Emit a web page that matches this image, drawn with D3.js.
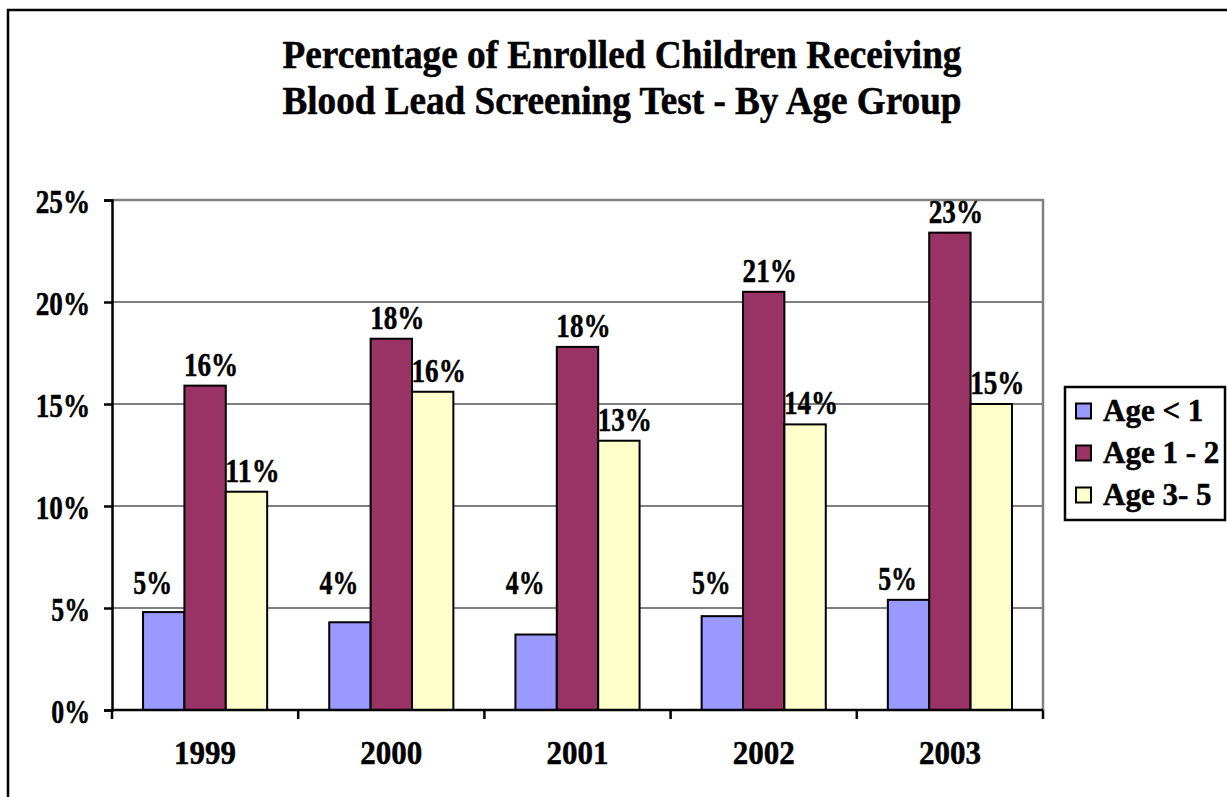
<!DOCTYPE html>
<html>
<head>
<meta charset="utf-8">
<script src="https://cdn.jsdelivr.net/npm/d3@7"></script>
<style>
  html, body { margin: 0; padding: 0; background: #fff; }
  svg { display: block; }
  text { font-family: "Liberation Serif", "Times New Roman", serif; font-weight: bold; fill: #000; stroke: #000; stroke-width: 0.5px; }
</style>
</head>
<body>
<svg id="chart" width="1227" height="797"></svg>
<script>
// Chart data
const years = ["1999", "2000", "2001", "2002", "2003"];
const seriesNames = ["Age < 1", "Age 1 - 2", "Age 3- 5"];
const ageUnder1 = [4.8, 4.3, 3.7, 4.6, 5.4];
const age1to2 = [15.9, 18.2, 17.8, 20.5, 23.4];
const age3to5 = [10.7, 15.6, 13.2, 14.0, 15.0];
const yTicks = [0, 5, 10, 15, 20, 25];
const titleLines = ["Percentage of Enrolled Children Receiving", "Blood Lead Screening Test - By Age Group"];
const seriesColors = ["#9999FF", "#993366", "#FFFFCC"];

const seriesValues = [ageUnder1, age1to2, age3to5];

const svg = d3.select("#chart");

// Outer frame
svg.append("rect")
  .attr("x", 8).attr("y", 10)
  .attr("width", 1260).attr("height", 820)
  .attr("fill", "none").attr("stroke", "#000").attr("stroke-width", 2.5);

// Title (two centred lines)
svg.append("g").selectAll("text")
  .data(titleLines)
  .join("text")
  .attr("x", 622)
  .attr("y", (d, i) => 68 + i * 46)
  .attr("text-anchor", "middle")
  .attr("font-size", 39)
  .attr("textLength", 679)
  .attr("lengthAdjust", "spacingAndGlyphs")
  .text(d => d);

// Plot area
const plot = { left: 112, right: 1043, top: 200, bottom: 710 };

const x0 = d3.scaleBand().domain(years).range([plot.left, plot.right]).paddingInner(0).paddingOuter(0);
const band = x0.bandwidth();
const gapWidth = band * 1.5 / 4.5;
const x1 = d3.scaleBand().domain(seriesNames).range([gapWidth / 2, band - gapWidth / 2]).padding(0);
const y = d3.scaleLinear().domain([0, 25]).range([plot.bottom, plot.top]);

// Gridlines
svg.append("g")
  .selectAll("line")
  .data(yTicks.filter(t => t > 0 && t < 25))
  .join("line")
  .attr("x1", plot.left).attr("x2", plot.right)
  .attr("y1", d => y(d)).attr("y2", d => y(d))
  .attr("stroke", "#000").attr("stroke-width", 1.2);

// Plot frame top and right (gray)
svg.append("path")
  .attr("d", `M${plot.left},${y(25)}H${plot.right}V${plot.bottom}`)
  .attr("fill", "none").attr("stroke", "#808080").attr("stroke-width", 2.5);

// Bars
const rows = years.map((yr, i) => ({ year: yr, values: seriesNames.map((s, j) => ({ series: s, idx: j, value: seriesValues[j][i] })) }));

const groups = svg.append("g").selectAll("g")
  .data(rows)
  .join("g")
  .attr("transform", d => `translate(${x0(d.year)},0)`);

groups.selectAll("rect")
  .data(d => d.values)
  .join("rect")
  .attr("x", d => x1(d.series))
  .attr("y", d => y(d.value))
  .attr("width", x1.bandwidth())
  .attr("height", d => y(0) - y(d.value))
  .attr("fill", d => seriesColors[d.idx])
  .attr("stroke", "#000").attr("stroke-width", 2);

// Value labels
const labelSize = 34;
const minLabelValue = 5.2;
const pctWidth = s => 31 * (0.5 * (s.length - 1) + 0.75);
groups.selectAll("text")
  .data(d => d.values)
  .join("text")
  .each(function(d) { d.label = Math.round(d.value) + "%"; })
  .attr("x", d => x1(d.series) + x1.bandwidth() / 2 + (d.label.length === 2 ? -11 : 6))
  .attr("y", d => y(Math.max(d.value, minLabelValue)) - 10)
  .attr("text-anchor", "middle")
  .attr("font-size", labelSize)
  .attr("textLength", d => pctWidth(d.label))
  .attr("lengthAdjust", "spacingAndGlyphs")
  .text(d => d.label);

// Y axis
const yAxis = svg.append("g")
  .attr("transform", `translate(${plot.left},0)`)
  .call(d3.axisLeft(y).tickValues(yTicks).tickSize(8).tickPadding(14).tickFormat(d => d + "%"));
yAxis.select(".domain").attr("stroke", "#000").attr("stroke-width", 2.5);
yAxis.selectAll(".tick line").attr("stroke", "#000").attr("stroke-width", 2.5);
yAxis.selectAll(".tick text")
  .attr("font-family", null)
  .attr("font-size", labelSize)
  .attr("fill", "#000")
  .attr("dy", "0.36em")
  .attr("textLength", function(d) { return pctWidth(d + "%"); })
  .attr("lengthAdjust", "spacingAndGlyphs");

// X axis with ticks at category boundaries
const xAxisG = svg.append("g").attr("transform", `translate(0,${plot.bottom})`);
xAxisG.append("line")
  .attr("x1", plot.left).attr("x2", plot.right)
  .attr("stroke", "#000").attr("stroke-width", 2.5);
xAxisG.selectAll("line.tick")
  .data(years.map(yr => x0(yr)).concat([plot.right]))
  .join("line")
  .attr("class", "tick")
  .attr("x1", d => d).attr("x2", d => d)
  .attr("y1", 0).attr("y2", 9)
  .attr("stroke", "#000").attr("stroke-width", 2.5);
xAxisG.selectAll("text")
  .data(years)
  .join("text")
  .attr("x", d => x0(d) + band / 2)
  .attr("y", 54)
  .attr("text-anchor", "middle")
  .attr("font-size", labelSize)
  .attr("textLength", 62)
  .attr("lengthAdjust", "spacingAndGlyphs")
  .text(d => d);

// Legend
const legend = svg.append("g").attr("transform", "translate(1065,387)");
legend.append("rect")
  .attr("width", 160).attr("height", 133)
  .attr("fill", "#fff").attr("stroke", "#000").attr("stroke-width", 2.5);
const items = legend.selectAll("g.item")
  .data(seriesNames)
  .join("g")
  .attr("class", "item")
  .attr("transform", (d, i) => `translate(0,${24 + i * 42})`);
items.append("rect")
  .attr("x", 11).attr("y", -7.5)
  .attr("width", 15).attr("height", 15)
  .attr("fill", (d, i) => seriesColors[i])
  .attr("stroke", "#000").attr("stroke-width", 2);
items.append("text")
  .attr("x", 38).attr("y", 10)
  .attr("font-size", 31)
  .text(d => d);
</script>
</body>
</html>
